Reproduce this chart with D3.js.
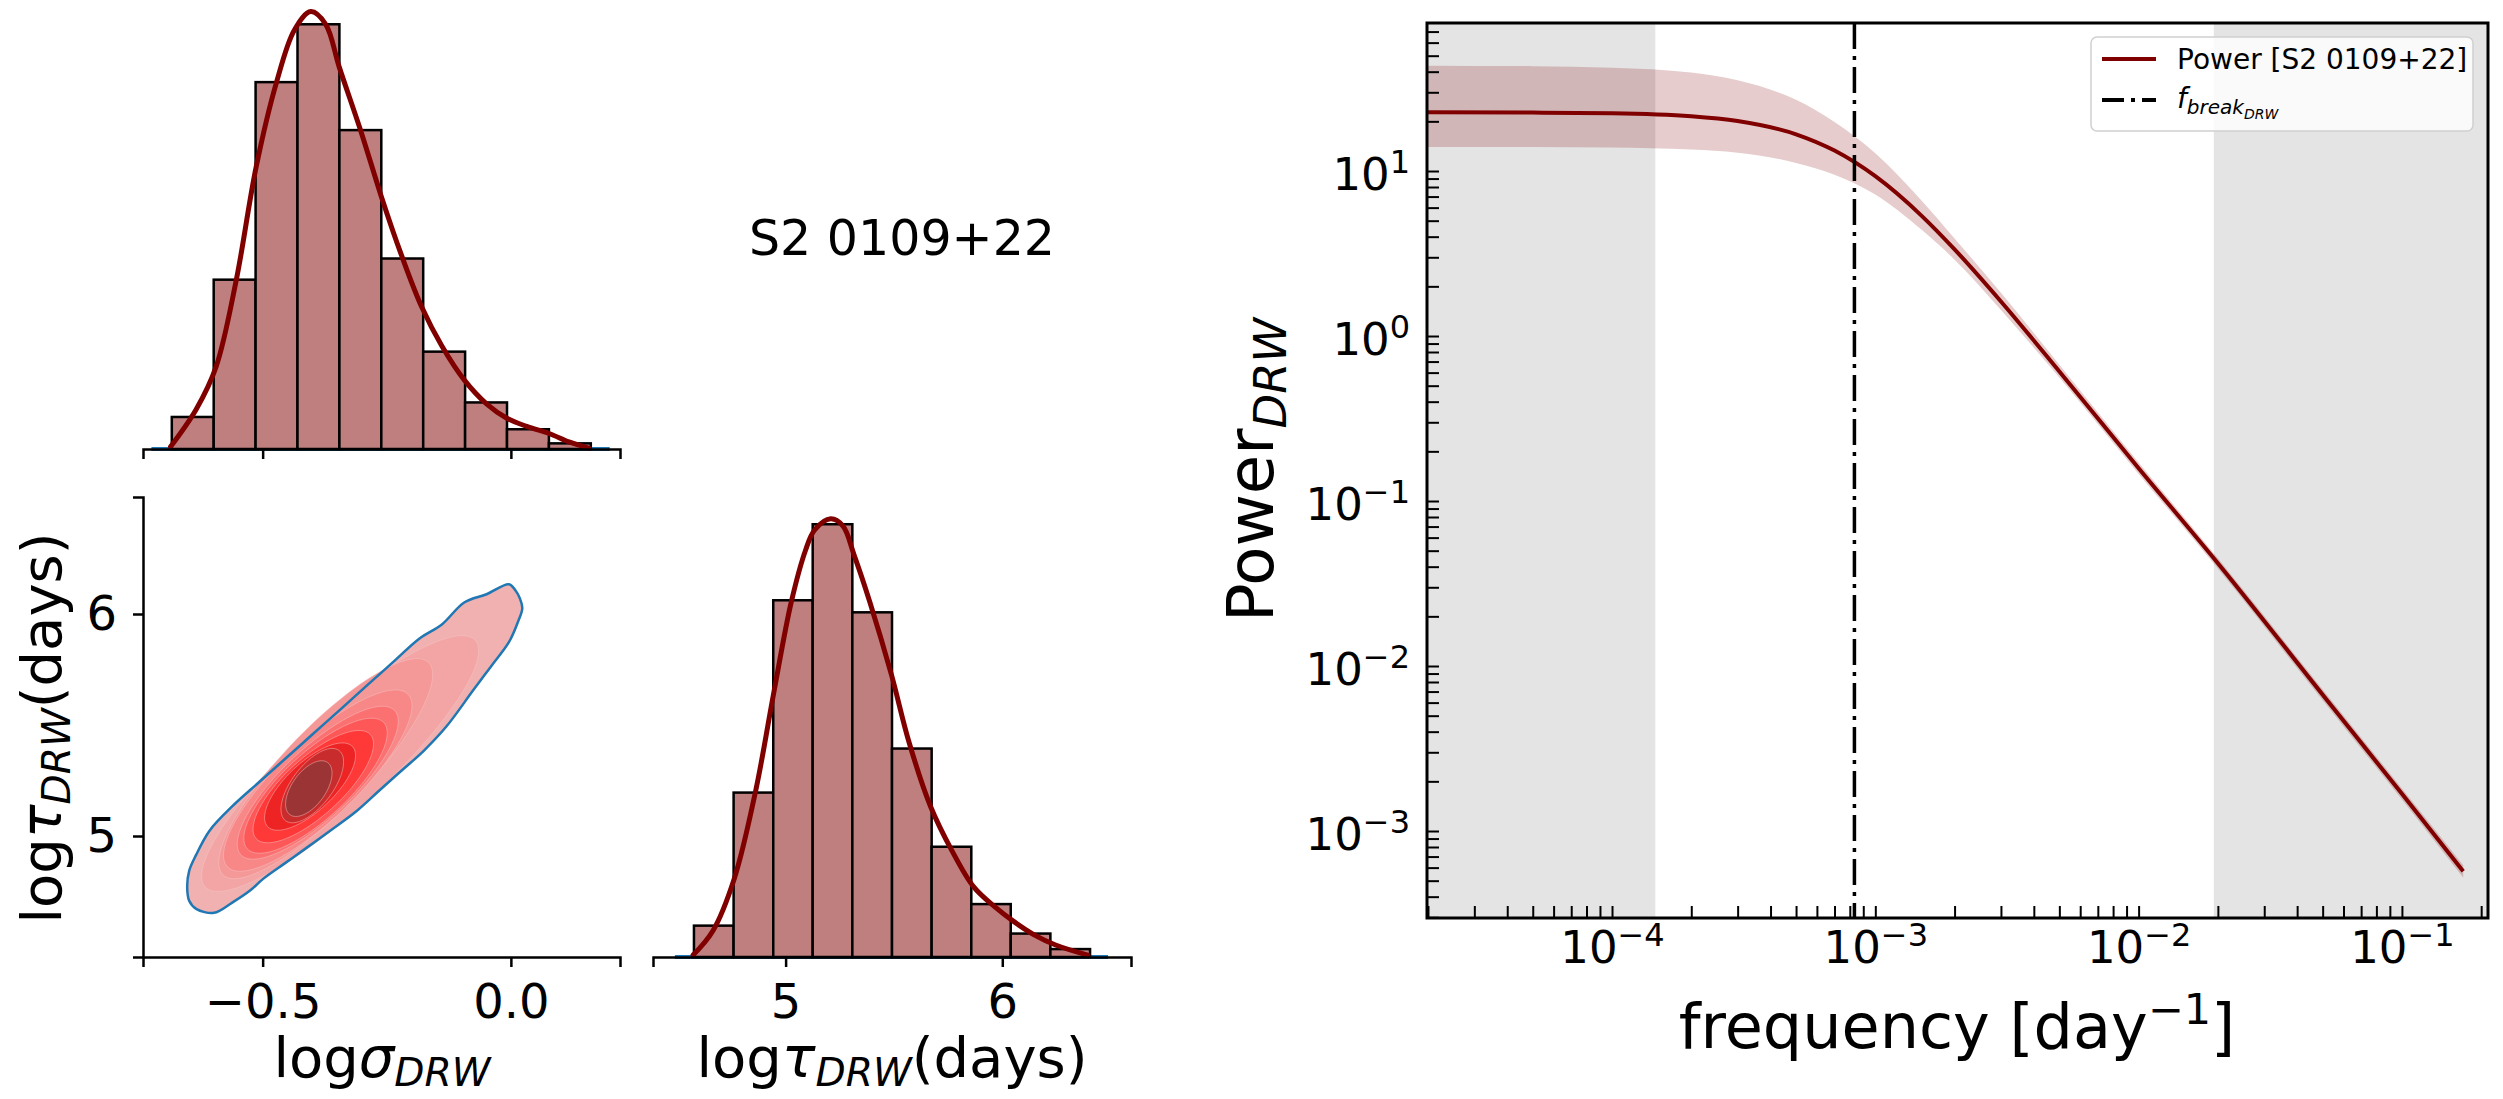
<!DOCTYPE html>
<html>
<head>
<meta charset="utf-8">
<script src="https://cdn.jsdelivr.net/npm/d3@7"></script>
<style>
  body { margin: 0; background: #fff; }
  svg text { font-family: "DejaVu Sans", sans-serif; fill: #000; }
</style>
</head>
<body>
<div id="chart"></div>
<script>
/** data **/
var title = "S2 0109+22";

// log sigma marginal
var sigmaEdges = [-0.683, -0.5986, -0.5142, -0.4298, -0.3454, -0.261, -0.1766, -0.0922, -0.0078, 0.0766, 0.161];
var sigmaDensity = [0.227, 1.20, 2.60, 3.01, 2.26, 1.35, 0.69, 0.33, 0.14, 0.04];
var sigmaKdeX = [-0.6855, -0.634, -0.594, -0.553, -0.513, -0.472, -0.436, -0.403, -0.373, -0.346, -0.301, -0.261, -0.220, -0.180, -0.139, -0.094, -0.049, -0.009, 0.032, 0.077, 0.117, 0.158];
var sigmaKdeY = [0.016, 0.28, 0.58, 1.20, 2.00, 2.60, 2.97, 3.10, 3.01, 2.71, 2.24, 1.79, 1.37, 1.01, 0.73, 0.49, 0.32, 0.22, 0.16, 0.11, 0.05, 0.005];
var sigmaBlue = [-0.724, 0.199];

// log tau marginal
var tauEdges = [4.577, 4.760, 4.943, 5.125, 5.308, 5.491, 5.674, 5.857, 6.039, 6.222, 6.405];
var tauDensity = [0.099, 0.519, 1.126, 1.366, 1.088, 0.658, 0.348, 0.167, 0.074, 0.025];
var tauKdeX = [4.573, 4.664, 4.763, 4.862, 4.944, 5.026, 5.092, 5.133, 5.208, 5.265, 5.315, 5.389, 5.488, 5.570, 5.669, 5.768, 5.867, 5.966, 6.049, 6.147, 6.246, 6.395];
var tauKdeY = [0.006, 0.082, 0.247, 0.525, 0.829, 1.120, 1.284, 1.347, 1.383, 1.360, 1.271, 1.120, 0.892, 0.677, 0.475, 0.335, 0.222, 0.158, 0.114, 0.070, 0.038, 0.006];
var tauBlue = [4.489, 6.488];

// joint density: outer contour (sigma, tau)
var outerSigma = [-0.004, 0.009, 0.018, 0.023, 0.014, -0.004, -0.040, -0.076, -0.130, -0.175, -0.220, -0.265, -0.310, -0.364, -0.409, -0.454, -0.499, -0.526, -0.562, -0.598, -0.634, -0.648, -0.652, -0.648, -0.634, -0.607, -0.562, -0.508, -0.454, -0.400, -0.346, -0.292, -0.238, -0.184, -0.139, -0.094, -0.049];
var outerTau = [6.134, 6.107, 6.071, 6.026, 5.963, 5.873, 5.764, 5.656, 5.493, 5.385, 5.295, 5.205, 5.114, 5.024, 4.951, 4.879, 4.807, 4.753, 4.699, 4.654, 4.672, 4.708, 4.771, 4.843, 4.915, 5.024, 5.132, 5.241, 5.349, 5.457, 5.565, 5.674, 5.782, 5.890, 5.953, 6.052, 6.089];
// inner contour levels: upper-right end, lower-left end, width / length
var ringUpperSigma = [-0.072, -0.166, -0.207, -0.234, -0.256, -0.283, -0.319, -0.346, -0.369];
var ringUpperTau = [5.882, 5.782, 5.638, 5.565, 5.511, 5.457, 5.403, 5.385, 5.331];
var ringLowerSigma = [-0.616, -0.580, -0.571, -0.544, -0.531, -0.513, -0.490, -0.454, -0.445];
var ringLowerTau = [4.771, 4.825, 4.861, 4.915, 4.942, 4.988, 5.042, 5.069, 5.096];
var ringAspect = [0.25, 0.28, 0.31, 0.33, 0.35, 0.37, 0.41, 0.46, 0.52];

// power spectrum
var freq = [2e-5, 5e-5, 1e-4, 2e-4, 3e-4, 5e-4, 7e-4, 1e-3, 1.5e-3, 2e-3, 3e-3, 5e-3, 1e-2, 2e-2, 5e-2, 0.1, 0.171];
var power = [22.7, 22.6, 22.4, 21.5, 20.1, 16.7, 13.3, 9.3, 5.35, 3.35, 1.62, 0.61, 0.158, 0.042, 0.0067, 0.00168, 0.00057];
var powerHigh = [43.5, 43.2, 42.3, 39.5, 35.5, 27.0, 19.8, 12.8, 6.6, 3.9, 1.83, 0.67, 0.171, 0.045, 0.0072, 0.00181, 0.00062];
var powerLow = [14.0, 14.0, 13.9, 13.5, 12.9, 11.2, 9.5, 7.2, 4.4, 2.9, 1.44, 0.56, 0.146, 0.039, 0.0062, 0.00155, 0.00052];
var fBreak = 8.33e-4;
var grayLeft = 1.46e-4;
var grayRight = 0.0193;
var freqTicks = [1e-4, 1e-3, 1e-2, 1e-1];
var powerTicks = [1e-3, 1e-2, 1e-1, 1, 10];

var maroon = "#800000";
var levelColors = ["#f1b1b1", "#f3a5a5", "#f59898", "#f88787", "#fb7171", "#fe5757", "#ff3838", "#ee2424", "#c92c2c", "#9b3535"];

var svg = d3.select("#chart").append("svg")
    .attr("width", 2503)
    .attr("height", 1099);

/** scales **/
var xSig = d3.scaleLinear().domain([-0.741, 0.2198]).range([143, 620]);
var ySigHist = d3.scaleLinear().domain([0, 3.26]).range([449, -11]);
var yTauKde = d3.scaleLinear().domain([4.455, 6.527]).range([957, 497]);
var xTau = d3.scaleLinear().domain([4.388, 6.594]).range([653, 1131]);
var yTauHist = d3.scaleLinear().domain([0, 1.452]).range([957, 497]);

function styleAxis(g, fs) {
  g.selectAll("path.domain").attr("stroke-width", 2.5);
  g.selectAll(".tick line").attr("stroke-width", 2.5);
  g.selectAll("text").attr("font-size", fs).attr("font-family", "DejaVu Sans");
}

/** marginal histogram helper **/
function histogram(xs, ys, edges, dens, kx, ky, blue) {
  var g = svg.append("g");
  g.append("line")
      .attr("x1", xs(blue[0])).attr("x2", xs(blue[1]))
      .attr("y1", ys(0)).attr("y2", ys(0))
      .attr("stroke", "#1f77b4").attr("stroke-width", 4);
  g.selectAll("rect").data(dens).enter().append("rect")
      .attr("x", function(d, i) { return xs(edges[i]); })
      .attr("y", function(d) { return ys(d); })
      .attr("width", function(d, i) { return xs(edges[i + 1]) - xs(edges[i]); })
      .attr("height", function(d) { return ys(0) - ys(d); })
      .style("fill", "#bf7f7f")
      .style("stroke", "#000")
      .style("stroke-width", 2.5);
  var pts = kx.map(function(v, i) { return [v, ky[i]]; });
  g.append("path")
      .attr("d", d3.line().x(function(d) { return xs(d[0]); }).y(function(d) { return ys(d[1]); }).curve(d3.curveCatmullRom)(pts))
      .style("fill", "none")
      .style("stroke", maroon)
      .style("stroke-width", 5)
      .style("stroke-linecap", "round");
}

histogram(xSig, ySigHist, sigmaEdges, sigmaDensity, sigmaKdeX, sigmaKdeY, sigmaBlue);
var gTopAxis = svg.append("g").attr("transform", "translate(0,449)")
    .call(d3.axisBottom(xSig).tickValues([-0.5, 0]).tickSizeOuter(0).tickSize(10).tickFormat(""));
styleAxis(gTopAxis, 48);

histogram(xTau, yTauHist, tauEdges, tauDensity, tauKdeX, tauKdeY, tauBlue);
var gTauAxis = svg.append("g").attr("transform", "translate(0,957)")
    .call(d3.axisBottom(xTau).tickValues([5, 6]).tickSizeOuter(0).tickSize(10).tickPadding(17).tickFormat(d3.format("d")));
styleAxis(gTauAxis, 48);

/** joint density panel **/
var gKde = svg.append("g");
var outerPts = outerSigma.map(function(v, i) { return [xSig(v), yTauKde(outerTau[i])]; });
var closedLine = d3.line().curve(d3.curveCatmullRomClosed);
gKde.append("path")
    .attr("d", closedLine(outerPts))
    .style("fill", levelColors[0]);

ringUpperSigma.forEach(function(s, i) {
  var p1 = [xSig(s), yTauKde(ringUpperTau[i])];
  var p2 = [xSig(ringLowerSigma[i]), yTauKde(ringLowerTau[i])];
  var cx = (p1[0] + p2[0]) / 2, cy = (p1[1] + p2[1]) / 2;
  var a = Math.hypot(p1[0] - p2[0], p1[1] - p2[1]) / 2;
  var b = a * ringAspect[i];
  var th = Math.atan2(p1[1] - p2[1], p1[0] - p2[0]);
  var pts = d3.range(0, 2 * Math.PI, Math.PI / 36).map(function(t) {
    return [cx + a * Math.cos(t) * Math.cos(th) - b * Math.sin(t) * Math.sin(th),
            cy + a * Math.cos(t) * Math.sin(th) + b * Math.sin(t) * Math.cos(th)];
  });
  gKde.append("path")
      .attr("d", closedLine(pts))
      .style("fill", levelColors[i + 1])
      .style("stroke", "#f6c4c4")
      .style("stroke-width", 0.8)
      .style("stroke-opacity", 0.6);
});
gKde.append("path")
    .attr("d", closedLine(outerPts))
    .style("fill", "none")
    .style("stroke", "#1f77b4")
    .style("stroke-width", 2.5);

var gKdeX = svg.append("g").attr("transform", "translate(0,957)")
    .call(d3.axisBottom(xSig).tickValues([-0.5, 0]).tickSizeOuter(0).tickSize(10).tickPadding(17).tickFormat(d3.format(".1f")));
styleAxis(gKdeX, 48);
var gKdeY = svg.append("g").attr("transform", "translate(143,0)")
    .call(d3.axisLeft(yTauKde).tickValues([5, 6]).tickSizeOuter(0).tickSize(10).tickPadding(16).tickFormat(d3.format("d")));
styleAxis(gKdeY, 48);

/** axis labels of corner panels **/
function mathLabel(sel, base, greek, sub, tail, fs) {
  sel.append("tspan").text(base);
  sel.append("tspan").text(greek).style("font-style", "italic");
  sel.append("tspan").text(sub).style("font-style", "italic")
      .attr("font-size", fs * 0.7).attr("dy", fs * 0.16);
  if (tail) sel.append("tspan").text(tail).attr("dy", -fs * 0.16);
}
var lab1 = svg.append("text").attr("x", 382).attr("y", 1077)
    .attr("text-anchor", "middle").attr("font-size", 56);
mathLabel(lab1, "log", "σ", "DRW", null, 56);
var lab2 = svg.append("text").attr("x", 892).attr("y", 1077)
    .attr("text-anchor", "middle").attr("font-size", 56);
mathLabel(lab2, "log", "τ", "DRW", "(days)", 56);
var lab3 = svg.append("text").attr("transform", "translate(61,728) rotate(-90)")
    .attr("text-anchor", "middle").attr("font-size", 56);
mathLabel(lab3, "log", "τ", "DRW", "(days)", 56);

svg.append("text").attr("x", 902).attr("y", 255)
    .attr("text-anchor", "middle").attr("font-size", 49)
    .text(title);

/** power spectrum panel **/
var xF = d3.scaleLog().domain([1.983e-5, 0.2123]).range([1427, 2488]);
var yP = d3.scaleLog().domain([2.97e-4, 78.9]).range([918, 23]);

svg.append("clipPath").attr("id", "psdclip").append("rect")
    .attr("x", 1427).attr("y", 23).attr("width", 2488 - 1427).attr("height", 918 - 23);
var gP = svg.append("g").attr("clip-path", "url(#psdclip)");

gP.append("rect").attr("x", xF.range()[0]).attr("y", 23)
    .attr("width", xF(grayLeft) - xF.range()[0]).attr("height", 895)
    .style("fill", "#e4e4e4");
gP.append("rect").attr("x", xF(grayRight)).attr("y", 23)
    .attr("width", xF.range()[1] - xF(grayRight)).attr("height", 895)
    .style("fill", "#e4e4e4");

var psd = freq.map(function(f, i) { return { f: f, p: power[i], lo: powerLow[i], hi: powerHigh[i] }; });
gP.append("path")
    .attr("d", d3.area().x(function(d) { return xF(d.f); })
        .y0(function(d) { return yP(d.lo); }).y1(function(d) { return yP(d.hi); })
        .curve(d3.curveMonotoneX)(psd))
    .style("fill", maroon)
    .style("fill-opacity", 0.2);
gP.append("path")
    .attr("d", d3.line().x(function(d) { return xF(d.f); }).y(function(d) { return yP(d.p); })
        .curve(d3.curveMonotoneX)(psd))
    .style("fill", "none")
    .style("stroke", maroon)
    .style("stroke-width", 4);
gP.append("line")
    .attr("x1", xF(fBreak)).attr("x2", xF(fBreak))
    .attr("y1", 23).attr("y2", 918)
    .style("stroke", "#000")
    .style("stroke-width", 3.5)
    .style("stroke-dasharray", "26,7,4,7");

// ticks, inward
function powLabel(g) {
  g.selectAll(".tick text").each(function(d) {
    var t = d3.select(this);
    var e = Math.round(Math.log10(d));
    if (freqTicks.indexOf(d) < 0 && powerTicks.indexOf(d) < 0) { t.text(""); return; }
    t.text("");
    t.append("tspan").text("10");
    t.append("tspan").text(e < 0 ? "\u2212" + (-e) : String(e))
        .attr("font-size", 32).attr("dy", -17);
  });
}
var gPx = svg.append("g").attr("transform", "translate(0,918)")
    .call(d3.axisBottom(xF).tickSizeInner(-12).tickSizeOuter(0).tickPadding(13));
gPx.selectAll(".tick line").attr("stroke-width", 2);
gPx.selectAll("text").attr("font-size", 45).attr("font-family", "DejaVu Sans");
powLabel(gPx);

var gPy = svg.append("g").attr("transform", "translate(1427,0)")
    .call(d3.axisLeft(yP).tickSizeInner(-12).tickSizeOuter(0).tickPadding(17));
gPy.selectAll(".tick line").attr("stroke-width", 2);
gPy.selectAll("text").attr("font-size", 45).attr("font-family", "DejaVu Sans").attr("dy", "0.4em");
powLabel(gPy);

svg.append("rect").attr("x", 1427).attr("y", 23).attr("width", 1061).attr("height", 895)
    .style("fill", "none").style("stroke", "#000").style("stroke-width", 3);

// axis titles
var yl = svg.append("text").attr("transform", "translate(1273,470) rotate(-90)")
    .attr("text-anchor", "middle").attr("font-size", 64);
yl.append("tspan").text("Power");
yl.append("tspan").text("DRW").style("font-style", "italic").attr("font-size", 45).attr("dy", 13);

var xl = svg.append("text").attr("x", 1957).attr("y", 1048)
    .attr("text-anchor", "middle").attr("font-size", 62);
xl.append("tspan").text("frequency [day");
xl.append("tspan").text("\u22121").attr("font-size", 43).attr("dy", -24);
xl.append("tspan").text("]").attr("dy", 24);

// legend
var lg = svg.append("g");
lg.append("rect").attr("x", 2091).attr("y", 37).attr("width", 382).attr("height", 94).attr("rx", 6)
    .style("fill", "#fff").style("fill-opacity", 0.8)
    .style("stroke", "#d0d0d0").style("stroke-width", 1.5);
lg.append("line").attr("x1", 2102).attr("x2", 2156).attr("y1", 59).attr("y2", 59)
    .style("stroke", maroon).style("stroke-width", 4);
lg.append("text").attr("x", 2177).attr("y", 69).attr("font-size", 28).text("Power [S2 0109+22]");
lg.append("line").attr("x1", 2102).attr("x2", 2156).attr("y1", 100).attr("y2", 100)
    .style("stroke", "#000").style("stroke-width", 4).style("stroke-dasharray", "22,7,4,7");
var lt = lg.append("text").attr("x", 2177).attr("y", 108).attr("font-size", 28);
lt.append("tspan").text("f").style("font-style", "italic");
lt.append("tspan").text("break").style("font-style", "italic").attr("font-size", 20).attr("dy", 6);
lt.append("tspan").text("DRW").style("font-style", "italic").attr("font-size", 14).attr("dy", 5);
</script>
</body>
</html>
